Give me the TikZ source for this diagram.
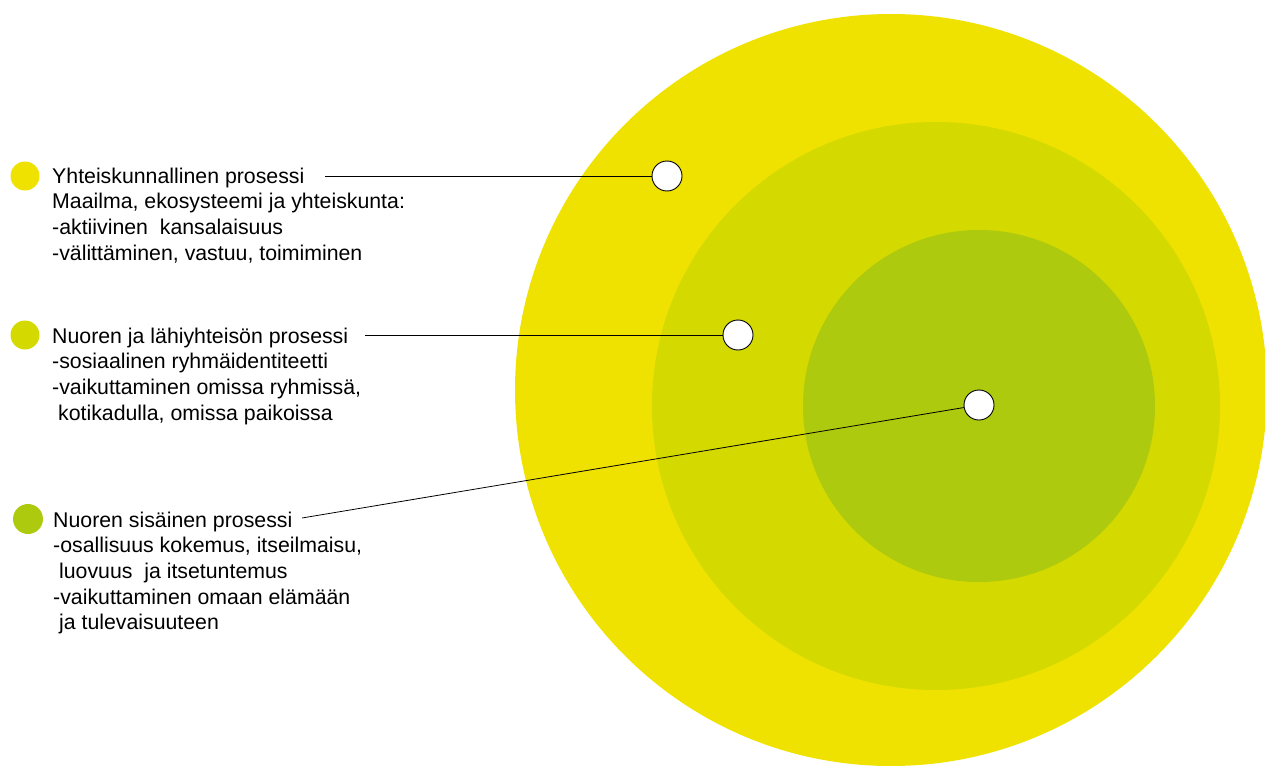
\documentclass[tikz,border=0pt]{standalone}
\usepackage{fontspec}
\setmainfont{Liberation Sans}
\definecolor{outerY}{RGB}{240,226,0}
\definecolor{midY}{RGB}{212,217,0}
\definecolor{innerG}{RGB}{174,202,14}
\tikzset{
  ring/.style={circle, inner sep=0pt, draw=none},
  marker/.style={circle, draw=black, line width=0.9pt, fill=white, minimum size=30pt, inner sep=0pt},
  dot/.style={circle, inner sep=0pt, draw=none, minimum size=29pt},
  label/.style={anchor=north west, align=left, inner sep=0pt, font=\fontsize{21.3}{25.6}\selectfont},
  conn/.style={line width=0.8pt, draw=black}
}
\begin{document}
\begin{tikzpicture}[x=1pt,y=-1pt]
\useasboundingbox (0,0) rectangle (1265,765);
\begin{scope}
\clip (0,0) rectangle (1265,765);
\node[ring, fill=outerY, minimum size=752pt] (outer) at (891,390) {};
\node[ring, fill=midY, minimum size=568pt] (mid) at (936,406) {};
\node[ring, fill=innerG, minimum size=352pt] (inner) at (979,406) {};
\end{scope}

\node[marker] (c1) at (667,176) {};
\node[marker] (c2) at (738,335) {};
\node[marker] (c3) at (979,405) {};

\node[dot, fill=outerY] (d1) at (25,176) {};
\node[dot, fill=midY] (d2) at (25,335) {};
\node[dot, fill=innerG, minimum size=30pt] (d3) at (28,519) {};

\node[label] (t1) at (52,167.7) {Yhteiskunnallinen prosessi\\Maailma, ekosysteemi ja yhteiskunta:\\-aktiivinen\ \ kansalaisuus\\-välittäminen, vastuu, toimiminen};
\node[label] (t2) at (52,327.7) {Nuoren ja lähiyhteisön prosessi\\-sosiaalinen ryhmäidentiteetti\\-vaikuttaminen omissa ryhmissä,\\\ kotikadulla, omissa paikoissa};
\node[label] (t3) at (53,511.7) {Nuoren sisäinen prosessi\\-osallisuus kokemus, itseilmaisu,\\\ luovuus\ \ ja itsetuntemus\\-vaikuttaminen omaan elämään\\\ ja tulevaisuuteen};

\coordinate (s1) at (325,176);
\coordinate (s2) at (365,335);
\coordinate (s3) at (302,518);
\draw[conn] (s1) -- (c1);
\draw[conn] (s2) -- (c2);
\draw[conn] (s3) -- (c3);
\end{tikzpicture}
\end{document}
